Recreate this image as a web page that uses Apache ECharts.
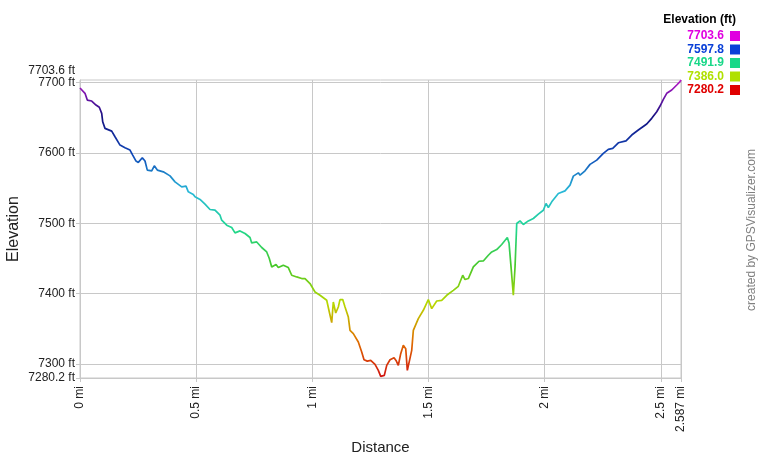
<!DOCTYPE html>
<html><head><meta charset="utf-8">
<script src="https://cdn.jsdelivr.net/npm/echarts@6/dist/echarts.min.js"></script>
<style>html,body{margin:0;padding:0;background:#fff}#c{width:760px;height:460px}</style>
</head><body><div id="c"></div>
<script>
// Distance (mi)
var distance = [0,0.0215,0.0314,0.0504,0.0573,0.0689,0.0831,0.0934,0.0977,0.1076,0.1365,0.1507,0.1722,0.1937,0.2152,0.2269,0.2411,0.2510,0.2682,0.2798,0.2897,0.3087,0.3198,0.3328,0.3586,0.3874,0.4090,0.4378,0.4563,0.4662,0.4877,0.4951,0.5166,0.5381,0.5596,0.5811,0.6027,0.6100,0.6315,0.6530,0.6672,0.6888,0.7103,0.7318,0.7391,0.7607,0.7822,0.8037,0.8149,0.8252,0.8437,0.8536,0.8752,0.8967,0.9113,0.9328,0.9544,0.9686,0.9901,1.0116,1.0331,1.0620,1.0732,1.0835,1.0904,1.1007,1.1119,1.1192,1.1309,1.1408,1.1550,1.1623,1.1765,1.1980,1.2126,1.2226,1.2368,1.2514,1.2699,1.2841,1.2944,1.3013,1.3099,1.3203,1.3345,1.3517,1.3603,1.3702,1.3805,1.3917,1.4021,1.4090,1.4163,1.4279,1.4348,1.4563,1.4778,1.4993,1.5140,1.5355,1.5570,1.5786,1.6070,1.6285,1.6474,1.6573,1.6716,1.6931,1.7176,1.7361,1.7577,1.7723,1.7938,1.8153,1.8394,1.8467,1.8554,1.8653,1.8726,1.8799,1.8941,1.9083,1.9298,1.9514,1.9729,1.9944,2.0060,2.0159,2.0306,2.0590,2.0878,2.1093,2.1236,2.1451,2.1524,2.1739,2.1954,2.2243,2.2527,2.2742,2.2932,2.3173,2.3504,2.3749,2.4033,2.4395,2.4610,2.4826,2.4968,2.5110,2.5256,2.5471,2.5687,2.5828,2.587];
// Elevation (ft)
var elevation = [7692.2,7684.7,7675.1,7673.7,7675.1,7668.0,7664.8,7656.2,7644.3,7634.9,7631.0,7622.9,7611.1,7607.3,7604.0,7596.9,7588.4,7586.5,7593.1,7588.4,7575.6,7574.6,7581.7,7575.6,7573.1,7567.4,7558.9,7551.8,7552.8,7544.7,7541.0,7537.6,7533.9,7527.2,7519.6,7518.6,7511.5,7504.4,7497.3,7494.0,7486.4,7489.2,7485.5,7479.8,7472.1,7473.5,7465.6,7459.3,7449.9,7438.0,7441.4,7437.1,7440.4,7437.1,7426.2,7423.8,7421.5,7421.5,7414.4,7402.4,7397.7,7390.6,7374.0,7358.9,7388.2,7372.5,7381.1,7391.6,7391.6,7381.1,7366.8,7347.9,7343.2,7331.3,7317.0,7306.2,7304.2,7305.2,7299.6,7291.0,7282.5,7280.2,7283.9,7298.1,7306.2,7309.1,7305.2,7298.1,7314.8,7326.6,7321.9,7291.0,7293.4,7319.5,7347.9,7364.6,7376.4,7391.6,7378.8,7389.6,7390.6,7397.7,7404.8,7410.5,7426.2,7420.1,7421.5,7438.0,7446.1,7446.5,7454.6,7459.3,7462.7,7469.9,7479.8,7472.1,7438.0,7397.7,7438.0,7499.7,7503.4,7498.3,7503.4,7506.8,7513.0,7518.6,7528.2,7522.5,7530.5,7542.4,7546.1,7554.2,7567.0,7571.7,7568.4,7574.6,7583.7,7589.8,7599.3,7605.0,7606.4,7614.4,7617.2,7625.4,7632.5,7641.0,7649.1,7658.5,7666.6,7676.1,7684.7,7689.4,7696.5,7701.2,7703.6];
var yTicks = [7280.2, 7300, 7400, 7500, 7600, 7700];
var yMaxTick = [7703.6];
var xTicks = [0, 0.5, 1, 1.5, 2, 2.5, 2.587];
var legendTitle = 'Elevation (ft)';
var legendValues = ['7703.6', '7597.8', '7491.9', '7386.0', '7280.2'];
var legendColors = ['#e000e0', '#0a40d8', '#18d888', '#b0e000', '#e00000'];
var gradientColors = ['#d01010', '#e07000', '#b8d800', '#48c828', '#20d890', '#28b8d8', '#1048b8', '#141080', '#b818c8'];

var yMin = 7280.2, yMax = 7703.6, xMax = 2.587;
var data = distance.map(function (d, i) { return [d, elevation[i]]; });

var graphics = [{
  type: 'text', right: 24, top: 14,
  style: { text: legendTitle, font: 'bold 12px Arial, "Liberation Sans"', fill: '#000' }
}];
legendValues.forEach(function (v, i) {
  graphics.push({ type: 'text', right: 36, top: 30 + i * 13.5,
    style: { text: v, font: 'bold 12px Arial, "Liberation Sans"', fill: legendColors[i] } });
  graphics.push({ type: 'rect', shape: { x: 730, y: 31 + i * 13.5, width: 10, height: 10 },
    style: { fill: legendColors[i] } });
});
graphics.push({
  type: 'text', x: 752, y: 230, rotation: Math.PI / 2,
  style: { text: 'created by GPSVisualizer.com', font: '12px Arial, "Liberation Sans"', fill: '#808080', align: 'center', verticalAlign: 'middle' }
});

var labelFont = { fontSize: 12, color: '#222', fontFamily: 'Arial, "Liberation Sans"' };
var chart = echarts.init(document.getElementById('c'), null, { renderer: 'canvas' });
chart.setOption({
  animation: false,
  backgroundColor: '#fff',
  grid: { left: 80, right: 79, top: 80, bottom: 82, show: true, borderColor: '#c8c8c8', borderWidth: 1,
    containLabel: false, outerBoundsMode: 'none' },
  xAxis: {
    type: 'value', min: 0, max: xMax,
    name: 'Distance', nameLocation: 'middle', nameGap: 60,
    nameTextStyle: { fontSize: 15, color: '#222', fontFamily: 'Arial, "Liberation Sans"' },
    axisLine: { show: true, lineStyle: { color: '#c8c8c8' } },
    axisTick: { show: true, length: 4, lineStyle: { color: '#c8c8c8' }, customValues: xTicks },
    splitLine: { show: true, lineStyle: { color: '#c8c8c8' } },
    axisLabel: Object.assign({ customValues: xTicks, rotate: 90, margin: 8,
      showMinLabel: true, showMaxLabel: true, hideOverlap: false,
      formatter: function (v) { return v + ' mi'; } }, labelFont)
  },
  yAxis: [{
    type: 'value', min: yMin, max: yMax,
    name: 'Elevation', nameLocation: 'middle', nameGap: 58, nameRotate: 90, nameMoveOverlap: false,
    nameTextStyle: { fontSize: 16, color: '#222', fontFamily: 'Arial, "Liberation Sans"' },
    axisLine: { show: true, lineStyle: { color: '#c8c8c8' } },
    axisTick: { show: true, length: 4, lineStyle: { color: '#c8c8c8' }, customValues: yTicks },
    splitLine: { show: true, lineStyle: { color: '#c8c8c8' } },
    axisLabel: Object.assign({ customValues: yTicks, margin: 5,
      showMinLabel: true, showMaxLabel: true, hideOverlap: false,
      formatter: function (v) { return v + ' ft'; } }, labelFont)
  }, {
    type: 'value', min: yMin, max: yMax, position: 'left', offset: 0,
    axisLine: { show: false }, axisTick: { show: false }, splitLine: { show: false },
    axisLabel: Object.assign({ customValues: yMaxTick, margin: 5,
      showMinLabel: true, showMaxLabel: true, hideOverlap: false,
      verticalAlign: 'bottom', padding: [0, 0, 3, 0],
      formatter: function (v) { return v + ' ft'; } }, labelFont)
  }],
  visualMap: { show: false, type: 'continuous', dimension: 1, min: yMin, max: yMax, inRange: { color: gradientColors } },
  series: [{
    type: 'line', data: data, showSymbol: false, symbol: 'none',
    lineStyle: { width: 1.7 }
  }],
  graphic: graphics
});
</script>
</body></html>
